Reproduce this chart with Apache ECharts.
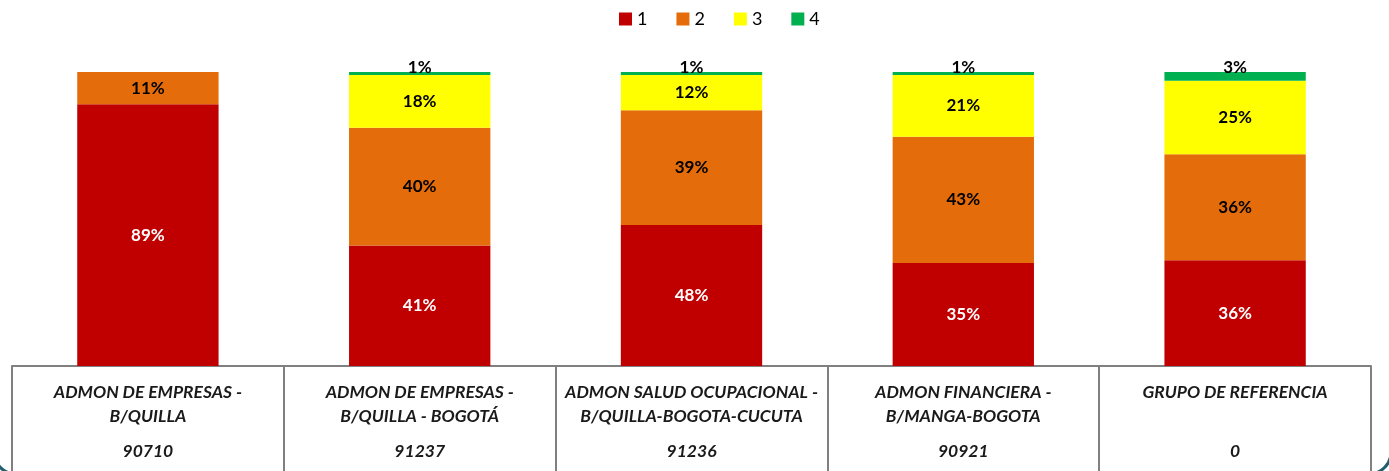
<!DOCTYPE html>
<html>
<head>
<meta charset="utf-8">
<script src="https://cdn.jsdelivr.net/npm/echarts@6/dist/echarts.min.js"></script>
<style>html,body{margin:0;padding:0;background:#fff}#c{width:1389px;height:471px}</style>
</head>
<body>
<div id="c"></div>
<script>
var catNames = [
  ["ADMON DE EMPRESAS -", "B/QUILLA"],
  ["ADMON DE EMPRESAS -", "B/QUILLA - BOGOTÁ"],
  ["ADMON SALUD OCUPACIONAL -", "B/QUILLA-BOGOTA-CUCUTA"],
  ["ADMON FINANCIERA -", "B/MANGA-BOGOTA"],
  ["GRUPO DE REFERENCIA"]
];
var catCodes = ["90710", "91237", "91236", "90921", "0"];
var seriesNames = ["1", "2", "3", "4"];
var s1 = [89, 41, 48, 35, 36];
var s2 = [11, 40, 39, 43, 36];
var s3 = [0, 18, 12, 21, 25];
var s4 = [0, 1, 1, 1, 3];

var colors = ["#C00000", "#E46C0A", "#FFFF00", "#00B050"];
var FONT = "Lato";
var cats = catNames.map(function (n, i) { return n.join("|") + "#" + catCodes[i]; });

function lab(color) {
  return {
    show: true, position: "inside", color: color, fontFamily: FONT,
    fontWeight: "bold", fontSize: 17,
    formatter: function (p) { return p.value ? p.value + "%" : ""; }
  };
}
var data = [s1, s2, s3, s4];
var series = data.map(function (d, i) {
  var l = lab(i === 0 ? "#fff" : "#000");
  if (i === 3) { l.position = "top"; l.distance = -4; }
  return { name: seriesNames[i], type: "bar", stack: "a", data: d, barWidth: "52%",
    itemStyle: { color: colors[i] }, label: l, z: 2 };
});

var chart = echarts.init(document.getElementById("c"), null, { renderer: "canvas" });
chart.setOption({
  animation: false,
  legend: {
    top: 5, left: 614, itemWidth: 13, itemHeight: 13, itemGap: 29,
    icon: "rect",
    textStyle: { fontFamily: FONT, fontSize: 18, color: "#000" },
    data: seriesNames
  },
  grid: { left: 12, right: 18, top: 72, bottom: 105 },
  xAxis: {
    type: "category", data: cats,
    axisLine: { show: true, lineStyle: { color: "#808080", width: 2 } },
    axisTick: { show: true, length: 106, lineStyle: { color: "#808080", width: 2 } },
    axisLabel: {
      interval: 0, margin: 14,
      formatter: function (v) {
        var parts = v.split("#");
        var lines = parts[0].split("|");
        return "{n|" + lines[0] + "}\n{n|" + (lines[1] || " ") + "}\n{g| }\n{c|" + parts[1] + "}";
      },
      rich: {
        n: { fontFamily: FONT, fontSize: 17.5, fontStyle: "italic", fontWeight: "bold", color: "#1a1a1a", lineHeight: 24 },
        g: { fontSize: 8, lineHeight: 11 },
        c: { fontFamily: FONT, fontSize: 17.5, fontStyle: "italic", fontWeight: "bold", color: "#1a1a1a", lineHeight: 24 }
      }
    }
  },
  yAxis: { type: "value", min: 0, max: 100, show: false, splitLine: { show: false } },
  graphic: [{
    type: "rect", silent: true, z: 100,
    shape: { x: -6, y: -40, width: 1397, height: 514, r: 22 },
    style: { fill: "none", stroke: "#1D5F6E", lineWidth: 3 }
  }],
  series: series
});
</script>
</body>
</html>
